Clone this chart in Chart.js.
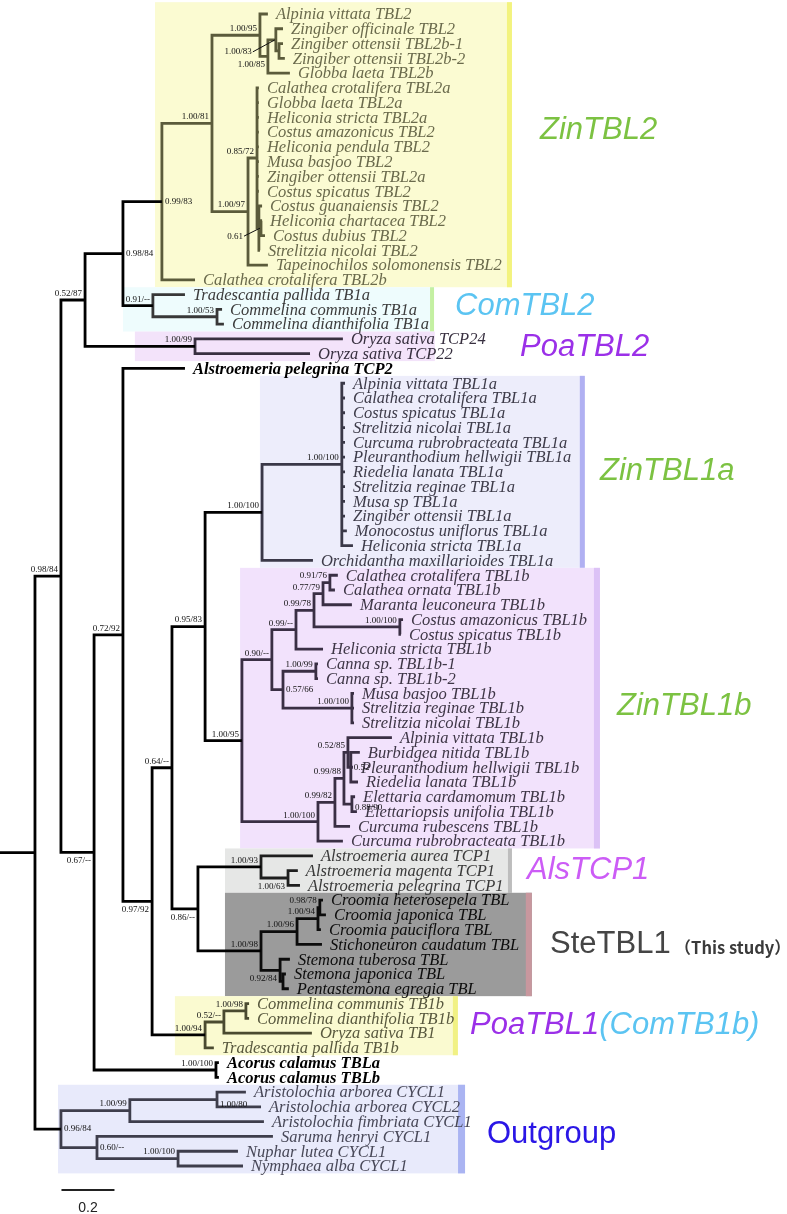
<!DOCTYPE html>
<html><head><meta charset="utf-8">
<script src="https://cdn.jsdelivr.net/npm/chart.js@4.4.1/dist/chart.umd.min.js"></script>
<style>html,body{margin:0;padding:0;background:#fff;overflow:hidden}#wrap{width:787px;height:1214px;position:relative}</style>
</head><body><div id="wrap"><canvas id="c" width="787" height="1214"></canvas></div>
<script>
// ---------------- DATA ----------------
const leafNames = [
 'Alpinia vittata TBL2','Zingiber officinale TBL2','Zingiber ottensii TBL2b-1','Zingiber ottensii TBL2b-2','Globba laeta TBL2b',
 'Calathea crotalifera TBL2a','Globba laeta TBL2a','Heliconia stricta TBL2a','Costus amazonicus TBL2','Heliconia pendula TBL2',
 'Musa basjoo TBL2','Zingiber ottensii TBL2a','Costus spicatus TBL2','Costus guanaiensis TBL2','Heliconia chartacea TBL2',
 'Costus dubius TBL2','Strelitzia nicolai TBL2','Tapeinochilos solomonensis TBL2','Calathea crotalifera TBL2b',
 'Tradescantia pallida TB1a','Commelina communis TB1a','Commelina dianthifolia TB1a',
 'Oryza sativa TCP24','Oryza sativa TCP22','Alstroemeria pelegrina TCP2',
 'Alpinia vittata TBL1a','Calathea crotalifera TBL1a','Costus spicatus TBL1a','Strelitzia nicolai TBL1a','Curcuma rubrobracteata TBL1a',
 'Pleuranthodium hellwigii TBL1a','Riedelia lanata TBL1a','Strelitzia reginae TBL1a','Musa sp TBL1a','Zingiber ottensii TBL1a',
 'Monocostus uniflorus TBL1a','Heliconia stricta TBL1a','Orchidantha maxillarioides TBL1a',
 'Calathea crotalifera TBL1b','Calathea ornata TBL1b','Maranta leuconeura TBL1b','Costus amazonicus TBL1b','Costus spicatus TBL1b',
 'Heliconia stricta TBL1b','Canna sp. TBL1b-1','Canna sp. TBL1b-2','Musa basjoo TBL1b','Strelitzia reginae TBL1b','Strelitzia nicolai TBL1b',
 'Alpinia vittata TBL1b','Burbidgea nitida TBL1b','Pleuranthodium hellwigii TBL1b','Riedelia lanata TBL1b','Elettaria cardamomum TBL1b',
 'Elettariopsis unifolia TBL1b','Curcuma rubescens TBL1b','Curcuma rubrobracteata TBL1b',
 'Alstroemeria aurea TCP1','Alstroemeria magenta TCP1','Alstroemeria pelegrina TCP1',
 'Croomia heterosepela TBL','Croomia japonica TBL','Croomia pauciflora TBL','Stichoneuron caudatum TBL',
 'Stemona tuberosa TBL','Stemona japonica TBL','Pentastemona egregia TBL',
 'Commelina communis TB1b','Commelina dianthifolia TB1b','Oryza sativa TB1','Tradescantia pallida TB1b',
 'Acorus calamus TBLa','Acorus calamus TBLb',
 'Aristolochia arborea CYCL1','Aristolochia arborea CYCL2','Aristolochia fimbriata CYCL1','Saruma henryi CYCL1',
 'Nuphar lutea CYCL1','Nymphaea alba CYCL1'
];
// parent internal node of every leaf
const leafParent = [6,8,9,9,7, 11,11,11,11,11,11,11,11, 12,13,13,12, 10, 4, 14,15,15, 16,16, 18,
 23,23,23,23,23,23,23,23,23,23,23,23, 22,
 29,29,28,30,30,26,32,32,33,33,33, 37,38,38,38,39,39,35,34,
 41,42,42, 46,46,45,44,47,48,48, 51,51,50,49, 52,52, 55,55,54,56,57,57];
// distance from root of every leaf tip (substitutions/site)
const leafDepth = [0.879,0.936,0.936,0.943,0.962,
 0.845,0.845,0.845,0.845,0.845,0.845,0.845,0.845, 0.857,0.857,0.868,0.849, 0.879,0.604,
 0.566,0.706,0.713, 1.162,1.038, 0.566,
 1.170,1.170,1.170,1.170,1.170,1.170,1.170,1.170,1.170,1.170,1.177,1.200, 1.049,
 1.143,1.132,1.196,1.389,1.381,1.087,1.068,1.068,1.204,1.204,1.204,
 1.347,1.226,1.200,1.219,1.208,1.215,1.189,1.162,
 1.049,0.992,1.000, 1.087,1.098,1.079,1.083,0.962,0.947,0.958,
 0.808,0.808,1.045,0.675, 0.694,0.694,
 0.796,0.853,0.864,0.898,0.766,0.785];
// internal nodes
const nodeParent = [-1,0,1,2,3,4,5,6,7,8, 5,10,11,12,3,14,2,1,17,18, 19,20,21,22,21,24,25,26,27,28,
 27,25,31,31,24,34,35,36,37,36, 20,40,41,40,43,44,45,43,47,19, 49,50,17,0,53,54,53,56];
const nodeDepth = [0,0.098,0.189,0.332,0.479,0.668,0.849,0.879,0.909,0.921,
 0.804,0.838,0.845,0.853,0.445,0.687,0.604,0.223,0.332,0.442,
 0.517,0.642,0.857,1.158,0.781,0.894,0.985,1.053,1.087,1.113,
 1.377,0.936,1.060,1.196,1.068,1.132,1.166,1.181,1.192,1.196,
 0.615,0.853,0.955,0.853,0.989,1.068,1.075,0.925,0.936,0.642,
 0.713,0.796,0.683,0.098,0.358,0.687,0.234,0.540];
const nodeSupport = ['','0.98/84','0.52/87','0.98/84','0.99/83','1.00/81','1.00/95','1.00/85','1.00/83','',
 '1.00/97','0.85/72','','0.61','0.91/--','1.00/53','1.00/99','0.67/--','0.72/92','0.97/92',
 '0.64/--','0.95/83','1.00/100','1.00/100','1.00/95','0.90/--','0.99/--','0.99/78','0.77/79','0.91/76',
 '1.00/100','0.57/66','1.00/99','1.00/100','1.00/100','0.99/82','0.99/88','0.52/85','0.52','0.88/90',
 '0.86/--','1.00/93','1.00/63','1.00/98','1.00/96','1.00/94','0.98/78','0.92/84','','1.00/94',
 '0.52/--','1.00/98','1.00/100','0.96/84','1.00/99','1.00/80','0.60/--','1.00/100'];
const cladeNames = ['ZinTBL2','ComTBL2','PoaTBL2','ZinTBL1a','ZinTBL1b','AlsTCP1','SteTBL1','PoaTBL1','Outgroup'];
const cladeFirst = [0,19,22,25,38,57,60,67,73];
const cladeLast  = [18,21,23,37,56,59,66,70,78];
const scaleBarLength = 0.2;
const scaleBarLabel = '0.2';

// ---------------- STYLE ----------------
const X_MIN = -0.132, X_MAX = 2.838, Y_MIN = -0.948, Y_MAX = 81.25;
const cladeStyle = {
 ZinTBL2: {fill:'#fbfbd2', bar:'#f3f37e', barW:5, padTop:0.8, x0:0.453, x1:1.800, line:'#5b5b3b', text:'#6a6a4c', lx:540, dy:-17, parts:[['ZinTBL2','#7cc242']], font:'italic 31px "Liberation Sans"'},
 ComTBL2: {fill:'#eefcfd', bar:'#c4f0a2', barW:4, x0:0.332, x1:1.506, line:'#383838', text:'#3c3c3c', lx:455, dy:-3, parts:[['ComTBL2','#5bc4f2']], font:'italic 31px "Liberation Sans"'},
 PoaTBL2: {fill:'#f3e3fa', bar:null, barW:0, x0:0.377, x1:1.509, line:'#383040', text:'#383040', lx:520, dy:1, parts:[['PoaTBL2','#9b30e8']], font:'italic 31px "Liberation Sans"'},
 ZinTBL1a:{fill:'#ededfb', bar:'#b0b0f2', barW:5, x0:0.849, x1:2.075, line:'#3a3848', text:'#3e3c4a', lx:600, dy:0, parts:[['ZinTBL1a','#7cc242']], font:'italic 31px "Liberation Sans"'},
 ZinTBL1b:{fill:'#f2e2fc', bar:'#dcc2f6', barW:6, x0:0.774, x1:2.132, line:'#3a2f44', text:'#3e3646', lx:617, dy:-2, parts:[['ZinTBL1b','#7cc242']], font:'italic 31px "Liberation Sans"'},
 AlsTCP1: {fill:'#e6e7e6', bar:'#bdbdbd', barW:4, x0:0.717, x1:1.800, line:'#1e1e1e', text:'#3a3a3a', lx:527, dy:0, parts:[['AlsTCP1','#cc5cf6']], font:'italic 31px "Liberation Sans"'},
 SteTBL1: {fill:'#9b9b9b', bar:'#c8979e', barW:6, x0:0.717, x1:1.875, line:'#0c0c0c', text:'#0c0c0c', lx:550, dy:0, parts:[['SteTBL1','#454545']], font:'31px "Liberation Sans"'},
 PoaTBL1: {fill:'#fafad0', bar:'#f1f184', barW:5, x0:0.528, x1:1.596, line:'#4a4a30', text:'#58583e', lx:470, dy:0, parts:[['PoaTBL1','#9b30e8'],['(ComTB1b)','#5bc4f2']], font:'italic 31px "Liberation Sans"'},
 Outgroup:{fill:'#e8eafb', bar:'#aab4f2', barW:7, x0:0.087, x1:1.623, line:'#3e3e4c', text:'#484858', lx:487, dy:5, parts:[['Outgroup','#2a16e6']], font:'31px "Liberation Sans"'}
};
// where each support value sits relative to its node: a = above incoming branch, b = below, r = right of node
const labelPlace = {3:'r',4:'r',31:'r',38:'r',39:'r',53:'r',55:'r',56:'r', 7:'b',17:'b',19:'b',40:'b',42:'b',47:'b', 8:'arrow',13:'arrow'};
const labelShift = {8:[-24,12], 13:[-18,8], 55:[0,5], 39:[0,3]};
const LEAF_FONT = '16.5px "Liberation Serif"';

// ---------------- TREE LAYOUT ----------------
const nL = leafNames.length, nN = nodeDepth.length;
const minLeaf = new Array(nN).fill(Infinity), maxLeaf = new Array(nN).fill(-Infinity);
for (let i=0;i<nL;i++){ let p = leafParent[i]; while(p>=0){ minLeaf[p]=Math.min(minLeaf[p],i); maxLeaf[p]=Math.max(maxLeaf[p],i); p=nodeParent[p]; } }
const kids = Array.from({length:nN},()=>[]);
for (let i=0;i<nL;i++) kids[leafParent[i]].push({leaf:true,i,key:i});
for (let n=0;n<nN;n++) if(nodeParent[n]>=0) kids[nodeParent[n]].push({leaf:false,i:n,key:minLeaf[n]});
kids.forEach(k=>k.sort((a,b)=>a.key-b.key));
const nodeY = new Array(nN);
function yOf(c){ return c.leaf ? c.i : nodeYf(c.i); }
function nodeYf(n){ if(nodeY[n]!==undefined) return nodeY[n]; const k=kids[n]; nodeY[n]=(yOf(k[0])+yOf(k[k.length-1]))/2; return nodeY[n]; }
for(let n=0;n<nN;n++) nodeYf(n);
function dOf(c){ return c.leaf ? leafDepth[c.i] : nodeDepth[c.i]; }
function cladeOfRange(a,b){ for(let k=0;k<cladeNames.length;k++) if(cladeFirst[k]<=a && b<=cladeLast[k]) return cladeNames[k]; return null; }
const nodeClade = nodeDepth.map((_,n)=>cladeOfRange(minLeaf[n],maxLeaf[n]));
const leafClade = leafNames.map((_,i)=>cladeOfRange(i,i));

const paths = {};
function add(col, pts){ (paths[col] = paths[col] || []).push(...pts, {x:0,y:null}); }
for (let n=0;n<nN;n++){
 const col = nodeClade[n] ? cladeStyle[nodeClade[n]].line : '#000';
 const k = kids[n], d = nodeDepth[n];
 const f = k[0], l = k[k.length-1];
 add(col, [{x:dOf(f),y:yOf(f)},{x:d,y:yOf(f)},{x:d,y:yOf(l)},{x:dOf(l),y:yOf(l)}]);
 for (let j=1;j<k.length-1;j++) add(col, [{x:d,y:yOf(k[j])},{x:dOf(k[j]),y:yOf(k[j])}]);
}
add('#000', [{x:X_MIN,y:nodeY[0]},{x:nodeDepth[0],y:nodeY[0]}]);
const datasets = Object.keys(paths).map(col=>({data:paths[col], borderColor:col, borderWidth:2.8, pointRadius:0, fill:false, tension:0, spanGaps:false}));

// ---------------- DRAWING ----------------
const treePlugin = {
 id:'tree',
 beforeDatasetsDraw(chart){
  const {ctx, scales:{x,y}} = chart;
  ctx.save();
  cladeNames.forEach((nm,k)=>{
   const s = cladeStyle[nm];
   const top = y.getPixelForValue(cladeFirst[k]-(s.padTop||0.5)), bot = y.getPixelForValue(cladeLast[k]+0.5);
   const l = x.getPixelForValue(s.x0), r = x.getPixelForValue(s.x1);
   ctx.fillStyle = s.fill; ctx.fillRect(l, top, r-l, bot-top);
   if (s.bar){ ctx.fillStyle = s.bar; ctx.fillRect(r-s.barW, top, s.barW, bot-top); }
  });
  ctx.restore();
 },
 afterDatasetsDraw(chart){
  const {ctx, scales:{x,y}} = chart;
  ctx.save();
  // leaf names
  ctx.textAlign='left'; ctx.textBaseline='middle';
  for (let i=0;i<nL;i++){
   const c = leafClade[i];
   ctx.font = (c ? 'italic ' : 'italic bold ') + LEAF_FONT;
   ctx.fillStyle = c ? cladeStyle[c].text : '#000';
   ctx.fillText(leafNames[i], x.getPixelForValue(leafDepth[i])+8, y.getPixelForValue(i)+1);
  }
  // support values
  ctx.font = '9px "Liberation Serif"'; ctx.fillStyle='#111'; ctx.strokeStyle='#111'; ctx.lineWidth=1;
  for (let n=0;n<nN;n++){
   const t = nodeSupport[n]; if(!t) continue;
   const px = x.getPixelForValue(nodeDepth[n]), py = y.getPixelForValue(nodeY[n]);
   const pl = labelPlace[n] || 'a', sh = labelShift[n] || [0,0];
   if (pl==='a'){ ctx.textAlign='right'; ctx.textBaseline='bottom'; ctx.fillText(t, px-3, py-2); }
   else if (pl==='b'){ ctx.textAlign='right'; ctx.textBaseline='top'; ctx.fillText(t, px-3, py+4); }
   else if (pl==='r'){ ctx.textAlign='left'; ctx.textBaseline='middle'; ctx.fillText(t, px+3+sh[0], py+sh[1]); }
   else { ctx.textAlign='right'; ctx.textBaseline='middle'; ctx.fillText(t, px+sh[0], py+sh[1]);
     ctx.beginPath(); ctx.moveTo(px+sh[0]+1, py+sh[1]); ctx.lineTo(px-1, py); ctx.stroke(); }
  }
  // clade names
  cladeNames.forEach((nm,k)=>{
   const s = cladeStyle[nm];
   const cy = y.getPixelForValue((cladeFirst[k]+cladeLast[k])/2) + s.dy;
   ctx.font = s.font; ctx.textAlign='left'; ctx.textBaseline='middle';
   let cx = s.lx;
   s.parts.forEach(([txt,col])=>{ ctx.fillStyle=col; ctx.fillText(txt, cx, cy); cx += ctx.measureText(txt).width; });
   if (nm==='SteTBL1'){ ctx.font='bold 16.5px "Noto Sans CJK SC"'; ctx.fillStyle='#3a3a3a'; ctx.fillText('（This study）', cx+4, cy+3); }
  });
  // scale bar
  const bx0 = x.getPixelForValue(0.1), bx1 = x.getPixelForValue(0.1+scaleBarLength);
  ctx.strokeStyle='#222'; ctx.lineWidth=2; ctx.beginPath(); ctx.moveTo(bx0,1190); ctx.lineTo(bx1,1190); ctx.stroke();
  ctx.font='14px "Liberation Sans"'; ctx.fillStyle='#222'; ctx.textAlign='center'; ctx.textBaseline='middle';
  ctx.fillText(scaleBarLabel, (bx0+bx1)/2, 1208);
  ctx.restore();
 }
};

new Chart(document.getElementById('c'), {
 type:'line',
 data:{datasets},
 options:{
  responsive:false, animation:false, events:[],
  layout:{padding:0},
  scales:{ x:{type:'linear', min:X_MIN, max:X_MAX, display:false}, y:{type:'linear', min:Y_MIN, max:Y_MAX, reverse:true, display:false} },
  plugins:{legend:{display:false}, tooltip:{enabled:false}},
  elements:{point:{radius:0}, line:{borderCapStyle:'butt', borderJoinStyle:'miter'}}
 },
 plugins:[treePlugin]
});
</script></body></html>
